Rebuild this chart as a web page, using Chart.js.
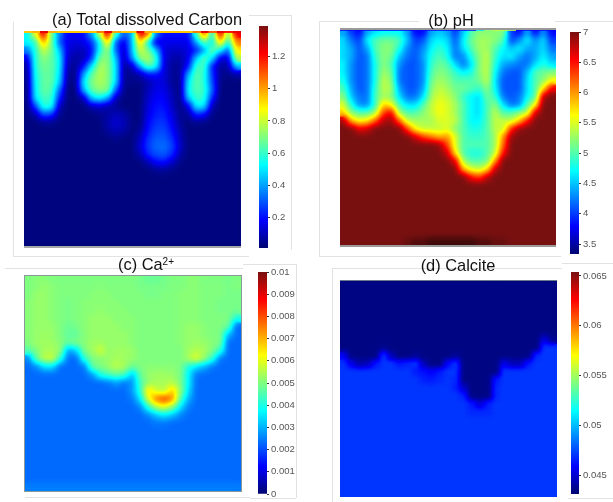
<!DOCTYPE html>
<html><head><meta charset="utf-8">
<script src="https://cdn.jsdelivr.net/npm/chart.js@4"></script>
<style>
html,body{margin:0;padding:0;background:#fff;width:613px;height:502px;overflow:hidden}
canvas{position:absolute;display:block}
.t{position:absolute;z-index:5;font:16.4px "Liberation Sans",Arial,sans-serif;color:#111;white-space:nowrap;transform:translate(-50%,-50%);line-height:16px}
.t sup{font-size:10px;line-height:0;vertical-align:5px}
.l{position:absolute;background:#e2e2e2}
</style></head><body>
<script>
// ---- titles and colour-bar ticks ----
const titleA = '(a) Total dissolved Carbon', titleB = '(b) pH', titleC = '(c) Ca<sup>2+</sup>', titleD = '(d) Calcite';
const ticksA = [1.2,1,0.8,0.6,0.4,0.2];
const ticksB = [7,6.5,6,5.5,5,4.5,4,3.5];
const ticksC = [0.01,0.009,0.008,0.007,0.006,0.005,0.004,0.003,0.002,0.001,0];
const ticksD = [0.065,0.06,0.055,0.05,0.045];
const rangeA = [0.01,1.39], rangeB = [3.335,7], rangeC = [0,0.01], rangeD = [0.0431,0.0654];
// ---- field values: rows top to bottom, in units of unitA..unitD ----
const unitA = 0.01, unitB = 0.1, unitC = 0.0001, unitD = 0.0001;
const n3 = [3,3,3,3,3,3,3,3,3,3,3,3,3,3,3,3,3,3,3,3,3,3,3,3,3,3,3];
const carbonRows = [
[52,85,125,70,35,18,18,20,40,80,125,60,32,40,125,110,35,20,20,20,20,60,110,55,125,70,125],
[52,60,100,70,30,16,14,15,25,52,95,30,14,42,95,55,14,16,16,16,16,40,65,50,95,55,105],
[35,58,80,68,45,14,11,10,18,55,75,32,10,42,82,70,45,14,12,12,14,22,40,68,52,30,90],
[15,58,72,66,52,11,7,9,25,68,72,45,7,36,70,78,60,15,8,8,14,45,65,50,14,14,78],
[7,58,68,66,52,8,5,20,50,76,72,50,6,10,40,65,55,14,6,6,20,60,62,22,6,8,45],
[5,56,66,66,50,6,4,40,65,78,72,50,5,5,8,20,20,14,6,5,40,65,58,25,5,4,8],
[4,54,66,66,46,4,4,50,70,76,72,48,5,4,4,8,14,14,6,4,50,65,58,28,4,3,3],
[3,52,66,64,32,3,3,42,65,72,70,30,4,3,3,10,16,16,8,3,52,64,60,32,3,3,3],
[3,50,62,60,22,3,3,10,45,52,40,10,3,3,3,12,18,18,10,3,45,60,58,22,3,3,3],
[3,28,58,55,10,3,3,3,10,12,8,6,3,3,3,14,20,20,12,3,14,52,50,8,3,3,3],
[3,9,30,26,5,3,3,3,3,5,7,10,8,3,3,15,22,23,14,5,6,24,20,4,3,3,3],
[3,3,5,5,3,3,3,3,3,3,9,13,10,4,3,18,25,25,17,6,3,5,4,3,3,3,3],
[3,3,3,3,3,3,3,3,3,3,7,10,8,3,6,20,27,28,20,8,3,3,3,3,3,3,3],
[3,3,3,3,3,3,3,3,3,3,3,5,3,3,10,24,30,31,24,10,3,3,3,3,3,3,3],
[3,3,3,3,3,3,3,3,3,3,3,3,3,3,13,26,32,33,27,12,3,3,3,3,3,3,3],
[3,3,3,3,3,3,3,3,3,3,3,3,3,3,8,23,29,30,24,8,3,3,3,3,3,3,3],
[3,3,3,3,3,3,3,3,3,3,3,3,3,3,3,9,18,20,12,4,3,3,3,3,3,3,3],
[3,3,3,3,3,3,3,3,3,3,3,3,3,3,3,3,5,6,4,3,3,3,3,3,3,3,3],
n3,n3,n3,n3,n3,n3,n3,n3,n3];
const carbonSurface = [95,98,125,98,95,95,95,95,95,105,125,100,95,95,125,98,95,95,95,95,95,105,125,110,125,120,125,125];
const n70 = [70,70,70,70,70,70,70,70,70,70,70,70,70,70,70,70,70,70,70,70,70,70,70,70,70,70,70];
const phRows = [
[44,40,38,44,46,47,47,47,44,38,38,44,45,44,40,45,50,52,52,52,52,40,38,44,38,43,38],
[46,42,40,47,50,51,51,50,45,40,41,46,47,46,41,47,51,53,53,52,50,40,43,47,43,46,40],
[46,44,41,44,50,52,52,48,43,41,43,47,49,47,42,46,50,53,53,50,47,45,47,44,44,46,42],
[46,44,41,42,49,52,51,45,42,41,44,48,50,48,42,43,48,52,54,49,46,47,44,42,44,47,44],
[47,43,41,42,48,52,50,43,41,41,43,49,51,50,46,42,46,52,54,48,44,43,42,42,46,48,46],
[47,43,41,42,48,53,51,42,41,41,43,50,52,51,49,47,48,52,54,47,42,41,41,45,50,51,52],
[48,43,41,42,48,54,52,42,41,41,43,51,53,52,50,50,50,51,54,46,41,41,41,46,50,52,56],
[50,44,41,42,49,54,53,44,41,41,44,52,54,53,51,51,50,49,52,47,41,41,41,46,50,57,66],
[52,45,42,42,50,53,52,46,42,42,46,53,55,54,52,49,47,46,51,49,42,41,42,47,50,68,70],
[55,48,43,43,49,58,56,49,46,46,50,54,56,55,53,50,47,46,50,52,46,42,43,50,56,70,70],
[58,52,50,50,53,63,66,53,50,50,52,54,56,55,53,50,47,46,50,54,50,50,52,54,67,70,70],
[69,59,56,57,62,68,69,62,54,53,53,53,55,55,54,50,47,47,50,54,54,54,58,65,70,70,70],
[70,70,66,67,70,70,70,70,63,56,54,54,54,55,52,50,48,48,50,54,54,64,69,70,70,70,70],
[70,70,70,70,70,70,70,70,70,67,63,61,59,60,55,50,49,49,50,53,60,69,70,70,70,70,70],
[70,70,70,70,70,70,70,70,70,70,70,70,69,63,55,50,50,50,50,53,62,70,70,70,70,70,70],
[70,70,70,70,70,70,70,70,70,70,70,70,70,67,57,50,48,48,50,54,65,70,70,70,70,70,70],
[70,70,70,70,70,70,70,70,70,70,70,70,70,70,66,53,50,50,51,60,70,70,70,70,70,70,70],
[70,70,70,70,70,70,70,70,70,70,70,70,70,70,70,59,55,54,57,68,70,70,70,70,70,70,70],
[70,70,70,70,70,70,70,70,70,70,70,70,70,70,70,70,65,63,68,70,70,70,70,70,70,70,70],
n70,n70,n70,n70,n70,n70,n70,
[70,70,70,70,70,70,70,70,71,72,72,73,73,73,73,73,73,72,72,71,71,70,70,70,70,70,70]];
const phSurface = [38,38,38,38,38,38,38,38,38,38,38,38,38,38,38,38,38,46,52,54,54,54,38,38,38,38,38,38];
const n23 = [23,23,23,23,23,23,23,23,23,23,23,23,23,23,23,23,23,23,23,23,23,23,23,23,23,23,23];
const caRows = [
[50,51,51,50,50,50,50,50,50,50,50,50,50,50,49,48,48,49,50,50,51,51,50,50,50,49,50],
[50,51,52,51,50,50,50,50,50,51,50,50,50,50,49,49,49,49,50,50,51,51,50,50,50,49,50],
[50,52,52,51,50,50,50,50,51,51,51,50,50,50,50,49,49,50,50,51,51,51,50,50,50,49,49],
[51,52,52,51,50,49,50,51,51,51,51,51,50,50,50,50,50,50,50,51,51,51,50,50,49,49,49],
[51,52,52,51,50,49,50,51,51,52,51,51,51,50,50,50,50,50,50,51,51,51,50,50,49,49,49],
[51,52,52,51,50,49,50,51,52,52,52,51,51,51,50,50,50,50,50,51,51,51,50,50,50,50,40],
[51,52,52,52,50,48,49,51,52,52,52,52,51,51,50,50,50,50,50,51,52,52,51,50,50,48,23],
[51,52,53,52,50,47,47,51,52,52,52,52,52,51,50,50,50,50,50,51,52,52,51,50,50,31,23],
[50,53,53,53,51,48,50,51,53,53,52,52,52,51,50,50,50,50,50,51,52,53,52,51,50,23,23],
[46,50,54,54,52,28,33,50,53,58,52,53,53,52,50,50,50,50,50,50,53,55,54,50,42,23,23],
[25,47,56,58,42,23,23,42,50,51,52,54,53,52,50,50,50,50,50,50,54,60,52,42,24,23,23],
[23,26,35,35,23,23,23,24,47,50,52,56,54,48,50,51,51,51,51,50,40,35,30,24,23,23,23],
[23,23,23,23,23,23,23,23,27,40,44,47,44,31,48,52,53,53,52,50,37,24,23,23,23,23,23],
[23,23,23,23,23,23,23,23,23,23,24,28,24,27,44,52,54,54,55,50,37,23,23,23,23,23,23],
[23,23,23,23,23,23,23,23,23,23,23,23,23,28,42,66,58,55,68,52,35,23,23,23,23,23,23],
[23,23,23,23,23,23,23,23,23,23,23,23,23,24,36,60,76,82,74,46,30,23,23,23,23,23,23],
[23,23,23,23,23,23,23,23,23,23,23,23,23,23,26,42,55,60,52,36,25,23,23,23,23,23,23],
[23,23,23,23,23,23,23,23,23,23,23,23,23,23,23,26,32,36,32,26,23,23,23,23,23,23,23],
[23,23,23,23,23,23,23,23,23,23,23,23,23,23,23,23,24,24,23,23,23,23,23,23,23,23,23],
n23,n23,n23,n23,n23,n23,n23,
[25,25,25,25,25,25,25,25,25,25,25,25,25,25,25,25,25,25,25,25,25,25,25,25,25,25,25]];
const nTop = [435,435,435,435,435,435,435,435,435,435,435,435,435,435,435,435,435,435,435,435,435,435,435,435,435,435,435];
const nLow = [470,470,470,470,470,470,470,470,470,470,470,470,470,470,470,470,470,470,470,470,470,470,470,470,470,470,470];
const calciteRows = [
nTop,nTop,nTop,nTop,nTop,nTop,nTop,
[435,435,435,435,435,435,435,435,435,435,435,435,435,435,435,435,435,435,435,435,435,435,435,435,435,452,438],
[435,435,435,435,435,438,435,435,435,435,435,435,435,435,435,435,435,435,435,435,435,435,435,435,435,470,470],
[458,435,435,435,435,470,444,435,435,439,435,435,435,435,439,435,435,435,435,435,435,435,435,435,468,470,470],
[470,455,442,445,463,470,470,464,467,470,445,435,435,460,470,435,435,435,435,435,455,445,445,464,470,470,470],
[470,470,470,470,470,470,470,470,470,465,462,458,465,470,470,435,435,435,435,435,470,470,470,470,470,470,470],
[470,470,470,470,470,470,470,470,470,470,466,465,468,470,468,435,435,435,435,464,470,470,470,470,470,470,470],
[470,470,470,470,470,470,470,470,470,470,470,470,470,470,466,448,435,435,435,468,470,470,470,470,470,470,470],
[470,470,470,470,470,470,470,470,470,470,470,470,470,470,470,466,435,435,435,468,470,470,470,470,470,470,470],
[470,470,470,470,470,470,470,470,470,470,470,470,470,470,470,470,464,450,466,470,470,470,470,470,470,470,470],
[470,470,470,470,470,470,470,470,470,470,470,470,470,470,470,470,468,468,468,470,470,470,470,470,470,470,470],
nLow,nLow,nLow,nLow,nLow,nLow,nLow,nLow,nLow,nLow];

// ---- colour map (jet-like) ----
const stops = [[0,[0,6,112]],[0.125,[0,0,255]],[0.375,[0,255,255]],[0.625,[255,255,0]],[0.875,[255,0,0]],[1,[122,16,16]],[1.1,[50,8,8]]];
function jet(t){
  t=Math.max(0,Math.min(1.1,t));
  for(let i=1;i<stops.length;i++){ if(t<=stops[i][0]){
    const a=stops[i-1],b=stops[i],f=(t-a[0])/(b[0]-a[0]);
    return a[1].map((c,k)=>Math.round(c+(b[1][k]-c)*f)); } }
  return stops[stops.length-1][1];
}
const LUT=[]; for(let g=0;g<256;g++) LUT.push(jet(g/255*1.1));
const css=c=>`rgb(${c[0]},${c[1]},${c[2]})`;

const smoothField={id:'smoothField',afterDatasetDraw(chart,args){
  if(args.index!==0) return;
  const ctx=chart.ctx,ca=chart.chartArea,s=chart.options.plugins.smoothField.sigma;
  ctx.save();ctx.beginPath();ctx.rect(ca.left,ca.top,ca.width,ca.height);ctx.clip();
  ctx.filter=`blur(${s}px)`;ctx.drawImage(chart.canvas,0,0);ctx.filter='none';ctx.restore();
  const w=Math.round(ca.width),h=Math.round(ca.height),x0=Math.round(ca.left),y0=Math.round(ca.top);
  const img=ctx.getImageData(x0,y0,w,h),d=img.data;
  for(let i=0;i<d.length;i+=4){const c=LUT[d[i]];d[i]=c[0];d[i+1]=c[1];d[i+2]=c[2];d[i+3]=255;}
  ctx.clearRect(0,0,chart.width,chart.height);
  ctx.putImageData(img,x0,y0);
}};
const frame={id:'frame',afterDraw(chart){
  const f=chart.options.plugins.frame,ctx=chart.ctx,ca=chart.chartArea;
  ctx.save();ctx.fillStyle=f.color;
  if(f.top)ctx.fillRect(ca.left,ca.top-f.top+1,ca.width,f.top);
  if(f.bottom)ctx.fillRect(ca.left,ca.bottom-1,ca.width,f.bottom);
  if(f.side){ctx.fillRect(ca.left-1,ca.top,1,ca.height);ctx.fillRect(ca.right,ca.top,1,ca.height);}
  ctx.restore();
}};

function mountCanvas(l,t,w,h){const c=document.createElement('canvas');c.width=w;c.height=h;
  c.style.left=l+'px';c.style.top=t+'px';c.style.width=w+'px';c.style.height=h+'px';document.body.appendChild(c);return c;}

function field(p){
  const pad=4,rows=p.rows,R=rows.length,C=rows[0].length;
  const [lo,hi]=p.range,pts=[],cols=[];
  rows.forEach((r,j)=>r.forEach((v,i)=>{const val=v*p.unit;pts.push({x:i+.5,y:j+.5,v:val});
    const g=Math.max(0,Math.min(255,Math.round((val-lo)/(hi-lo)/1.1*255)));cols.push(`rgb(${g},${g},${g})`);}));
  const ds=[{type:'scatter',data:pts,order:2,pointStyle:'rect',pointRadius:6.7,pointBorderWidth:0,pointBackgroundColor:cols,clip:0}];
  if(p.surface){
    ds.push({type:'line',order:1,data:p.surface.map((v,i)=>({x:i,y:p.surfaceY,v:v*p.unit})),pointRadius:0,borderWidth:p.surfaceW,tension:0,clip:0,
      segment:{borderColor:c=>css(jet((c.p0.raw.v-lo)/(hi-lo)))},borderColor:'#000'});
  }
  new Chart(mountCanvas(p.x-pad,p.y-pad,p.w+2*pad,p.h+2*pad),{type:'scatter',data:{datasets:ds},plugins:[smoothField,frame],options:{
    responsive:false,animation:false,devicePixelRatio:1,layout:{padding:pad,autoPadding:false},
    scales:{x:{type:'linear',display:false,min:0,max:C},y:{type:'linear',display:false,min:0,max:R,reverse:true}},
    plugins:{legend:{display:false},tooltip:{enabled:false},title:{display:false},smoothField:{sigma:p.sigma},frame:p.frame}
  }});
}
function colorbar(b){
  const padV=8,W=b.w+36;
  new Chart(mountCanvas(b.x,b.y-padV,W,b.h+2*padV),{type:'bar',data:{labels:[''],datasets:[{data:[b.range],barPercentage:1,categoryPercentage:1,borderWidth:0,
    backgroundColor(c){const ch=c.chart,sc=ch.scales.y;if(!ch.chartArea||!sc)return '#00f';
      const g=ch.ctx.createLinearGradient(0,sc.getPixelForValue(b.range[0]),0,sc.getPixelForValue(b.range[1]));
      stops.slice(0,6).forEach(s=>g.addColorStop(s[0],css(s[1])));return g;}}]},
   options:{responsive:false,animation:false,devicePixelRatio:1,layout:{padding:{top:padV,bottom:padV,left:0,right:0}},
    scales:{x:{display:false},y:{position:'right',min:b.range[0],max:b.range[1],
      afterBuildTicks(s){s.ticks=b.ticks.map(v=>({value:v}));},
      afterFit(s){s.width=36;},
      border:{display:false},grid:{drawOnChartArea:false,tickLength:2,color:'#333',tickWidth:1},
      ticks:{autoSkip:false,padding:2,color:'#555',font:{family:'"Liberation Sans"',size:9.5},maxRotation:0,callback:v=>String(v)}}},
    plugins:{legend:{display:false},tooltip:{enabled:false}}}});
}

[[13,22,1,234],[13,256,236,1],[249,15,42,1],[291,15,1,235],[319,21,1,236],[319,256,242,1],[319,21,100,1],[555,21,58,1],
 [5,268,238,1],[243,264,53,1],[296,264,1,234],[25,497,225,1],[250,498,46,1],[332,268,1,234],[332,268,230,1],[562,263,51,1],[568,498,45,1]]
.forEach(([x,y,w,h])=>{const d=document.createElement('div');d.className='l';d.style.cssText=`left:${x}px;top:${y}px;width:${w}px;height:${h}px`;document.body.appendChild(d);});

field({x:24,y:31,w:217,h:216,rows:carbonRows,unit:unitA,range:rangeA,sigma:3,surface:carbonSurface,surfaceY:0.12,surfaceW:2,frame:{color:'#a8a8a8',bottom:2}});
field({x:340,y:29,w:216,h:217,rows:phRows,unit:unitB,range:rangeB,sigma:3.2,surface:phSurface,surfaceY:0.1,surfaceW:2,frame:{color:'#9a9a9a',top:2,bottom:2}});
field({x:25,y:275,w:216,h:217,rows:caRows,unit:unitC,range:rangeC,sigma:3,frame:{color:'#8a9a9a',top:1,bottom:1,side:1}});
field({x:340,y:280,w:217,h:217,rows:calciteRows,unit:unitD,range:rangeD,sigma:2.5,frame:{color:'#6a7a8a',top:1}});
colorbar({x:259,y:26,w:9,h:222,range:rangeA,ticks:ticksA});
colorbar({x:570,y:32,w:9,h:222,range:rangeB,ticks:ticksB});
colorbar({x:258,y:272,w:9,h:222,range:rangeC,ticks:ticksC});
colorbar({x:571,y:272,w:8,h:222,range:rangeD,ticks:ticksD});

[[titleA,147,19],[titleB,451,20],[titleC,146,264],[titleD,458,265]].forEach(([s,x,y])=>{
  const d=document.createElement('div');d.className='t';d.innerHTML=s;d.style.left=x+'px';d.style.top=y+'px';document.body.appendChild(d);});
</script>
</body></html>
